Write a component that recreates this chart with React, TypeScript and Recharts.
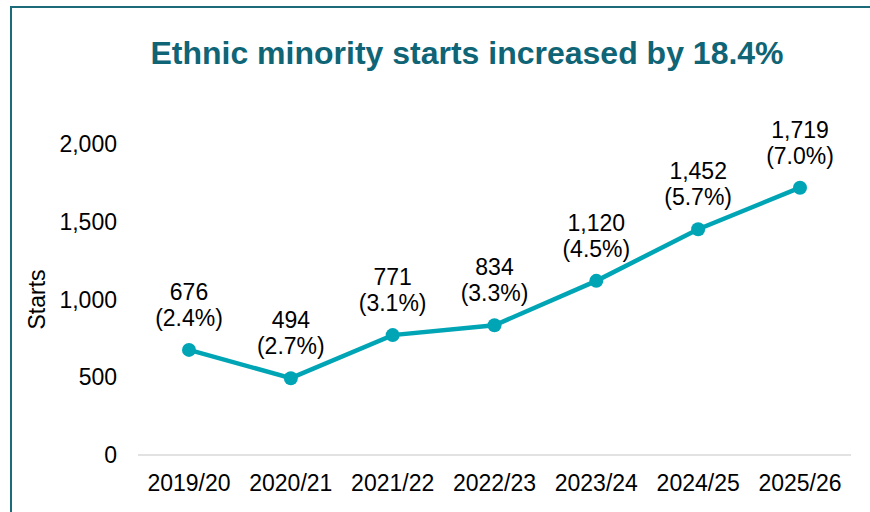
import React from 'react';
import { LineChart, Line, XAxis, YAxis, LabelList, Label } from 'recharts';

const categories = ['2019/20', '2020/21', '2021/22', '2022/23', '2023/24', '2024/25', '2025/26'];
const starts = [676, 494, 771, 834, 1120, 1452, 1719];
const shares = ['2.4%', '2.7%', '3.1%', '3.3%', '4.5%', '5.7%', '7.0%'];
const yTicks = [0, 500, 1000, 1500, 2000];

const data = categories.map((c, i) => ({ year: c, starts: starts[i], share: shares[i] }));

const FONT = '"Liberation Sans", Arial, Helvetica, sans-serif';
const LINE = '#00a5b5';
const TITLE = '#0f6475';

const fmt = (v: number) => v.toLocaleString('en-GB');

const PointLabel = (props: any) => {
  const { x, y, index } = props;
  const d = data[index];
  return (
    <g>
      <text x={x} y={y - 50} textAnchor="middle" fontSize={23} fill="#000" fontFamily={FONT}>
        {fmt(d.starts)}
      </text>
      <text x={x} y={y - 24} textAnchor="middle" fontSize={23} fill="#000" fontFamily={FONT}>
        {`(${d.share})`}
      </text>
    </g>
  );
};

const YLabel = (props: any) => {
  const vb = props.viewBox || {};
  const cy = (vb.y || 0) + (vb.height || 0) / 2;
  return (
    <text
      x={37}
      y={cy}
      transform={`rotate(-90, 37, ${cy})`}
      textAnchor="middle"
      dominantBaseline="central"
      fontSize={23}
      fill="#000"
      fontFamily={FONT}
    >
      Starts
    </text>
  );
};

export default function App() {
  return (
    <div style={{ position: 'absolute', left: 0, top: 0, width: 870, height: 512, background: '#fff', overflow: 'hidden', fontFamily: FONT }}>
      <div
        style={{
          position: 'absolute',
          left: 10,
          top: 6,
          width: 900,
          height: 600,
          borderLeft: '2px solid #1b6b78',
          borderTop: '2px solid #1b6b78',
          boxSizing: 'border-box',
        }}
      />
      <div
        style={{
          position: 'absolute',
          left: 0,
          width: 934,
          top: 37,
          textAlign: 'center',
          fontSize: 32,
          lineHeight: '32px',
          fontWeight: 'bold',
          color: TITLE,
          fontFamily: FONT,
          whiteSpace: 'nowrap',
        }}
      >
        Ethnic minority starts increased by 18.4%
      </div>
      <div style={{ position: 'absolute', left: 0, top: 0 }}>
        <LineChart width={870} height={512} data={data} margin={{ top: 144, right: 19, bottom: 0, left: 0 }}>
          <XAxis
            dataKey="year"
            height={57}
            tickSize={0}
            tickMargin={20}
            tickLine={false}
            padding={{ left: 51, right: 51 }}
            axisLine={{ stroke: '#d9d9d9', strokeWidth: 1.5 }}
            tick={{ fontSize: 23, fill: '#000', fontFamily: FONT }}
            interval={0}
          />
          <YAxis
            width={138}
            domain={[0, 2000]}
            ticks={yTicks}
            tickFormatter={fmt}
            tickSize={0}
            tickMargin={21}
            tickLine={false}
            axisLine={false}
            tick={{ fontSize: 23, fill: '#000', fontFamily: FONT }}
          >
            <Label content={<YLabel />} />
          </YAxis>
          <Line
            type="linear"
            dataKey="starts"
            stroke={LINE}
            strokeWidth={4.5}
            dot={{ r: 7, fill: LINE, stroke: LINE, strokeWidth: 0 }}
            activeDot={false}
            isAnimationActive={false}
          >
            <LabelList dataKey="starts" content={<PointLabel />} />
          </Line>
        </LineChart>
      </div>
    </div>
  );
}
